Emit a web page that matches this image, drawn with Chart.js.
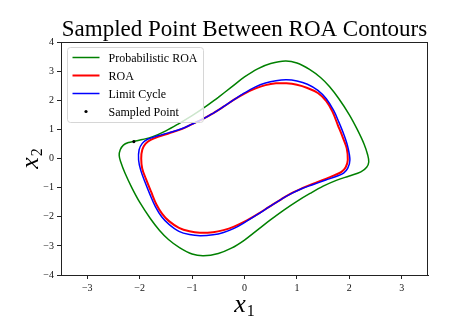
<!DOCTYPE html>
<html><head><meta charset="utf-8">
<script src="https://cdn.jsdelivr.net/npm/chart.js@4/dist/chart.umd.min.js"></script>
<style>html,body{margin:0;padding:0;background:#fff;}</style>
</head><body>
<canvas id="c" width="449" height="336"></canvas>
<script>
// ---- data ----
const probX = [-0.50,-0.25,0.00,0.25,0.50,0.78,1.00,1.24,1.45,1.62,1.80,2.00,2.15,2.28,2.35,2.37,2.33,2.22,2.00,1.75,1.50,1.25,1.00,0.75,0.50,0.25,0.00,-0.25,-0.50,-0.78,-1.00,-1.24,-1.45,-1.62,-1.80,-2.00,-2.15,-2.28,-2.36,-2.39,-2.37,-2.31,-2.21,-2.11,-1.95,-1.75,-1.50,-1.25,-1.00,-0.75,-0.50];
const probY = [2.10,2.45,2.80,3.08,3.26,3.35,3.28,3.06,2.78,2.47,2.05,1.50,1.00,0.50,0.12,-0.12,-0.30,-0.46,-0.60,-0.75,-0.95,-1.20,-1.47,-1.77,-2.10,-2.45,-2.80,-3.08,-3.26,-3.34,-3.28,-3.06,-2.78,-2.47,-2.05,-1.50,-1.00,-0.50,-0.12,0.10,0.30,0.46,0.55,0.59,0.65,0.75,0.95,1.20,1.47,1.77,2.10];

const roaX = [-0.60,-0.40,-0.20,0.00,0.20,0.40,0.60,0.80,1.00,1.20,1.40,1.56,1.68,1.78,1.88,1.95,1.97,1.93,1.85,1.72,1.55,1.30,1.10,0.90,0.70,0.47,0.25,0.00,-0.20,-0.40,-0.60,-0.85,-1.05,-1.25,-1.44,-1.57,-1.68,-1.78,-1.88,-1.95,-1.97,-1.95,-1.89,-1.79,-1.62,-1.45,-1.20,-1.00,-0.80,-0.60];
const roaY = [1.55,1.78,2.02,2.23,2.40,2.52,2.58,2.58,2.53,2.42,2.25,1.97,1.60,1.15,0.70,0.35,-0.05,-0.30,-0.46,-0.57,-0.70,-0.87,-1.02,-1.19,-1.40,-1.66,-1.91,-2.17,-2.34,-2.46,-2.53,-2.55,-2.50,-2.38,-2.15,-1.90,-1.58,-1.15,-0.70,-0.35,0.00,0.30,0.50,0.64,0.76,0.86,1.01,1.18,1.35,1.55];

const lcX = [-0.60,-0.40,-0.20,0.00,0.20,0.40,0.60,0.80,1.00,1.20,1.40,1.56,1.70,1.80,1.90,1.97,2.01,1.97,1.89,1.76,1.55,1.30,1.10,0.90,0.70,0.47,0.25,0.00,-0.20,-0.40,-0.60,-0.85,-1.05,-1.25,-1.44,-1.58,-1.70,-1.80,-1.90,-1.98,-2.02,-2.01,-1.95,-1.85,-1.65,-1.45,-1.20,-1.00,-0.80,-0.60];
const lcY = [1.55,1.78,2.02,2.25,2.45,2.59,2.67,2.70,2.66,2.55,2.34,2.05,1.65,1.25,0.80,0.40,-0.05,-0.33,-0.50,-0.61,-0.74,-0.90,-1.03,-1.20,-1.40,-1.66,-1.92,-2.20,-2.40,-2.54,-2.62,-2.65,-2.61,-2.50,-2.26,-2.00,-1.65,-1.25,-0.80,-0.40,-0.05,0.30,0.52,0.66,0.78,0.88,1.02,1.18,1.35,1.55];

const sampleX = [-2.11];
const sampleY = [0.58];

const xTicks = [-3,-2,-1,0,1,2,3];
const yTicks = [-4,-3,-2,-1,0,1,2,3,4];
const seriesNames = ['Probabilistic ROA','ROA','Limit Cycle','Sampled Point'];
const titleText = 'Sampled Point Between ROA Contours';

const toPts = (xs, ys) => xs.map((x, i) => ({x: x, y: ys[i]}));
const SERIF = '"Liberation Serif", "DejaVu Serif", serif';
const fmt = v => (v < 0 ? '\u2212' + Math.abs(v) : String(v));

const decor = {
  id: 'decor',
  afterDraw(chart) {
    const ctx = chart.ctx, a = chart.chartArea;
    ctx.save();
    // frame
    ctx.strokeStyle = '#222'; ctx.lineWidth = 1;
    ctx.strokeRect(a.left + 0.5, a.top + 0.5, a.right - a.left - 1, a.bottom - a.top);
    // title
    ctx.fillStyle = '#000';
    ctx.font = '23px ' + SERIF;
    ctx.textAlign = 'center'; ctx.textBaseline = 'alphabetic';
    ctx.fillText(titleText, (a.left + a.right) / 2, 36);
    // x label
    ctx.textAlign = 'left';
    ctx.font = 'italic 26px ' + SERIF;
    const wx = ctx.measureText('x').width;
    ctx.font = '16px ' + SERIF;
    const w1 = ctx.measureText('1').width;
    let sx = (a.left + a.right) / 2 - (wx + w1 + 1) / 2;
    ctx.font = 'italic 26px ' + SERIF;
    ctx.fillText('x', sx, 312);
    ctx.font = '16px ' + SERIF;
    ctx.fillText('1', sx + wx + 1, 316);
    // y label
    ctx.save();
    ctx.translate(38, (a.top + a.bottom) / 2);
    ctx.rotate(-Math.PI / 2);
    sx = -(wx + w1 + 1) / 2;
    ctx.font = 'italic 26px ' + SERIF;
    ctx.fillText('x', sx, 0);
    ctx.font = '16px ' + SERIF;
    ctx.fillText('2', sx + wx + 1, 4);
    ctx.restore();
    // legend
    const lx = a.left + 6.5, ly = a.top + 5.5, lw = 136, lh = 75;
    ctx.beginPath();
    if (ctx.roundRect) ctx.roundRect(lx, ly, lw, lh, 3); else ctx.rect(lx, ly, lw, lh);
    ctx.fillStyle = 'rgba(255,255,255,0.8)';
    ctx.fill();
    ctx.strokeStyle = '#d6d6d6'; ctx.lineWidth = 1;
    ctx.stroke();
    const ds = chart.data.datasets;
    ctx.font = '12px ' + SERIF;
    ctx.textBaseline = 'middle';
    for (let i = 0; i < 4; i++) {
      const cy = ly + 10 + i * 18;
      const d = ds[i];
      if (i < 3) {
        ctx.beginPath();
        ctx.strokeStyle = d.borderColor; ctx.lineWidth = d.borderWidth;
        ctx.moveTo(lx + 5, cy); ctx.lineTo(lx + 32, cy); ctx.stroke();
      } else {
        ctx.beginPath();
        ctx.fillStyle = '#000';
        ctx.arc(lx + 18.5, cy, 1.6, 0, Math.PI * 2); ctx.fill();
      }
      ctx.fillStyle = '#000';
      ctx.fillText(d.label, lx + 41, cy + 1);
    }
    ctx.restore();
  }
};

new Chart(document.getElementById('c'), {
  type: 'scatter',
  data: {
    datasets: [
      {label: seriesNames[0], data: toPts(probX, probY), showLine: true, borderColor: '#008000', borderWidth: 1.5, pointRadius: 0, tension: 0.35, order: 4},
      {label: seriesNames[1], data: toPts(roaX, roaY), showLine: true, borderColor: '#ff0000', borderWidth: 2, pointRadius: 0, tension: 0.35, order: 3},
      {label: seriesNames[2], data: toPts(lcX, lcY), showLine: true, borderColor: '#0000ff', borderWidth: 1.5, pointRadius: 0, tension: 0.35, order: 2},
      {label: seriesNames[3], data: toPts(sampleX, sampleY), showLine: false, backgroundColor: '#000', borderColor: '#000', pointRadius: 1.6, borderWidth: 0, order: 1}
    ]
  },
  options: {
    responsive: false, animation: false,
    layout: {padding: {left: 0, top: 42, right: 21, bottom: 0}},
    plugins: {legend: {display: false}, tooltip: {enabled: false}, title: {display: false}},
    scales: {
      x: {
        type: 'linear', min: -3.5, max: 3.5,
        afterBuildTicks: s => { s.ticks = xTicks.map(v => ({value: v})); },
        afterFit: s => { s.height = 61; },
        grid: {drawOnChartArea: false, drawTicks: true, tickLength: 4, color: '#222'},
        border: {display: true, color: '#222', width: 1},
        ticks: {callback: v => fmt(v), color: '#111', padding: 3, maxRotation: 0, font: {family: SERIF, size: 10}}
      },
      y: {
        type: 'linear', min: -4, max: 4,
        afterBuildTicks: s => { s.ticks = yTicks.map(v => ({value: v})); },
        afterFit: s => { s.width = 61; },
        grid: {drawOnChartArea: false, drawTicks: true, tickLength: 4, color: '#222'},
        border: {display: true, color: '#222', width: 1},
        ticks: {callback: v => fmt(v), color: '#111', padding: 3, font: {family: SERIF, size: 10}}
      }
    }
  },
  plugins: [decor]
});
</script>
</body></html>
